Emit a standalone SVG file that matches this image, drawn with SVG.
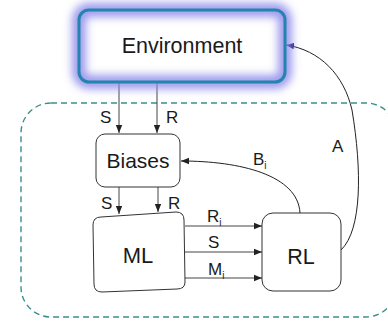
<svg xmlns="http://www.w3.org/2000/svg" width="388" height="322" viewBox="0 0 388 322">
<defs>
<style>
text{font-family:"Liberation Sans",Arial,sans-serif;fill:#1a1a1a}
.box{fill:#fff;stroke:#333;stroke-width:1}
.lbl{font-size:17px}
.sub{font-size:10px}
.name{font-size:21px;text-anchor:middle}
.ln{fill:none;stroke:#444;stroke-width:1}
.cv{fill:none;stroke:#222;stroke-width:1}
</style>
<marker id="ah" viewBox="0 0 10 10" refX="10" refY="5" markerWidth="8" markerHeight="8" markerUnits="userSpaceOnUse" orient="auto">
<path d="M0,1 L10,5 L0,9 z" fill="#222"/>
</marker>
<marker id="ahb" viewBox="0 0 10 10" refX="10" refY="5" markerWidth="8" markerHeight="8" markerUnits="userSpaceOnUse" orient="auto">
<path d="M0,1 L10,5 L0,9 z" fill="#1a1a70"/>
</marker>
<filter id="glow" x="-20%" y="-40%" width="140%" height="180%">
<feGaussianBlur stdDeviation="4"/>
</filter>
</defs>
<rect x="21" y="103" width="375" height="214" rx="30" fill="none" stroke="#3a8f8c" stroke-width="1.4" stroke-dasharray="6,4"/>
<g id="connectors">
<line x1="119" y1="82" x2="119" y2="133" class="ln" marker-end="url(#ah)"/>
<line x1="157" y1="82" x2="157" y2="133" class="ln" marker-end="url(#ah)"/>
<line x1="119" y1="187" x2="119" y2="214" class="ln" marker-end="url(#ah)"/>
<line x1="158" y1="187" x2="158" y2="212" class="ln" marker-end="url(#ah)"/>
<line x1="185" y1="226" x2="262" y2="226" class="ln" marker-end="url(#ah)"/>
<line x1="185" y1="252" x2="262" y2="252" class="ln" marker-end="url(#ah)"/>
<line x1="185" y1="278" x2="262" y2="278" class="ln" marker-end="url(#ah)"/>
<path d="M300,213 C298,175 240,161 181,161" class="cv" marker-end="url(#ah)"/>
<path d="M341,250 C362,230 362,170 352,110 C344,75 320,50 286,45" class="cv" marker-end="url(#ahb)"/>
</g>
<g id="environment">
<rect x="79" y="10" width="206" height="72" rx="10" fill="#fff"/>
<rect x="79" y="10" width="206" height="72" rx="10" fill="none" stroke="#8c88ea" stroke-width="14" stroke-opacity="0.85" filter="url(#glow)"/>
<rect x="79" y="10" width="206" height="72" rx="10" fill="none" stroke="#2384ad" stroke-width="3"/>
<text x="182" y="53" class="name" style="font-size:21.5px">Environment</text>
</g>
<g id="biases">
<rect x="96" y="134" width="84" height="53" rx="9" class="box"/>
<text x="138" y="168" class="name">Biases</text>
</g>
<g id="ml">
<path d="M101,217 L176,212 Q184,212 184,220 L185,282 Q185,289 177,289 L102,292 Q94,292 94,284 L93,225 Q93,217 101,217 Z" class="box"/>
<text x="138" y="263" class="name" style="font-size:22px">ML</text>
</g>
<g id="rl">
<rect x="262" y="213" width="79" height="78" rx="11" class="box"/>
<text x="301" y="264" class="name" style="font-size:21.5px">RL</text>
</g>
<g id="labels">
<text x="100" y="123" class="lbl">S</text>
<text x="166" y="123" class="lbl">R</text>
<text x="101" y="209" class="lbl">S</text>
<text x="168" y="209" class="lbl">R</text>
<text x="207" y="222" class="lbl">R<tspan dy="4" class="sub">i</tspan></text>
<text x="208" y="248" class="lbl">S</text>
<text x="208" y="275" class="lbl">M<tspan dy="4" class="sub">i</tspan></text>
<text x="253" y="165" class="lbl">B<tspan dy="4" class="sub">i</tspan></text>
<text x="332" y="152" class="lbl">A</text>
</g>
</svg>
